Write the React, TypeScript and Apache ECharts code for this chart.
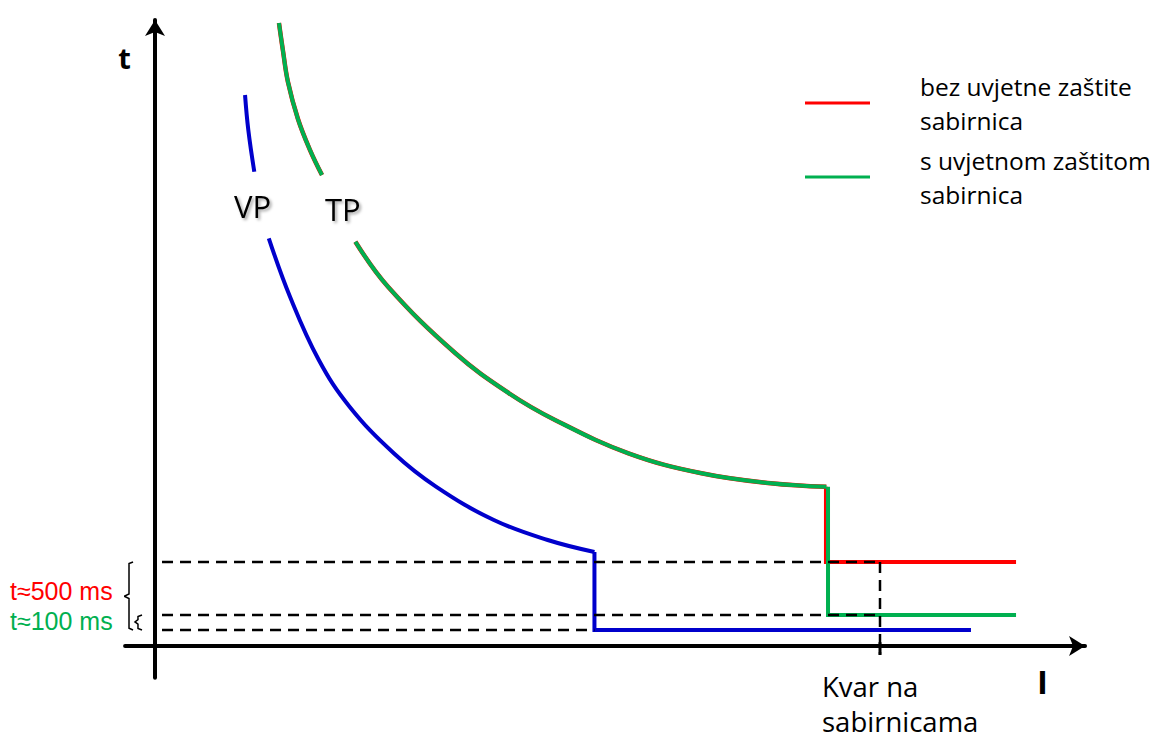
import React, { useEffect, useRef } from "react";
import * as echarts from "echarts";

// Schematic data (I in arbitrary units, t in arbitrary units)
const vpUpper: number[][] = [[9.63, 86.91], [9.98, 81.39], [10.62, 74.81]];
const vpLower: number[][] = [
  [12.17, 64.31], [14.44, 55.09], [17.52, 45.11], [20.81, 37.74], [25.54, 30.39],
  [30.05, 25.13], [36.24, 19.87], [42.0, 16.72], [47.0, 14.83],
];
const vpStep: number[][] = [[47.0, 14.83], [47.0, 2.52], [87.27, 2.52]];

const tpUpper: number[][] = [
  [13.26, 98.26], [13.69, 93.85], [14.22, 88.96], [15.29, 83.12], [16.58, 78.23], [17.86, 74.29],
];
const tpLower: number[][] = [
  [21.43, 63.77], [24.92, 56.67], [32.13, 46.17], [37.86, 39.86], [42.78, 35.65],
  [50.64, 30.39], [58.45, 27.24], [65.86, 25.66], [71.8, 25.1],
];
const redStep: number[][] = [[71.76, 25.1], [71.76, 13.25], [92.09, 13.25]];
const greenStep: number[][] = [[71.98, 25.1], [71.98, 4.89], [92.09, 4.89]];

const dash500: number[][] = [[0.75, 13.25], [77.54, 13.25]];
const dash100: number[][] = [[0.75, 4.89], [77.54, 4.89]];
const dashVP: number[][] = [[0.75, 2.52], [47.0, 2.52]];
const dashFault: number[][] = [[77.54, 13.25], [77.54, -1.4]];
const faultTick: number[][] = [[77.54, 0.6], [77.54, -1.4]];

const braceBig: number[][] = [
  [-2.35, 13.25], [-2.78, 13.0], [-2.78, 8.2], [-3.3, 7.85], [-2.78, 7.5], [-2.78, 2.8], [-2.35, 2.52],
];
const braceSmall: number[][] = [
  [-1.39, 4.89], [-1.82, 4.65], [-1.82, 4.15], [-2.14, 3.8], [-1.82, 3.45], [-1.82, 2.75], [-1.39, 2.52],
];

const NAME_RED = "bez uvjetne zaštite\nsabirnica";
const NAME_GREEN = "s uvjetnom zaštitom\nsabirnica";
const LABEL_500 = "t≈500 ms";
const LABEL_100 = "t≈100 ms";
const FAULT_LABEL = "Kvar na\nsabirnicama";

const X_MIN = -3.2, X_MAX = 99.47, Y_MIN = -5, Y_MAX = 98.74;
const PX_X = 9.35, PX_Y = 6.34;

const RED = "#FF0000";
const GREEN = "#00B050";
const BLUE = "#0000CC";
const FONT = "'Open Sans', 'Noto Sans', sans-serif";
const FONT_SMALL = "'Liberation Sans', Arial, sans-serif";

export default function App() {
  const ref = useRef<HTMLDivElement>(null);
  useEffect(() => {
    if (!ref.current) return;
    const chart = echarts.init(ref.current, null, { renderer: "svg" });
    const line = (name: string | undefined, data: number[][], color: string, width: number, smooth: number | boolean, extra: any = {}) => ({
      type: "line",
      name,
      data,
      smooth,
      symbol: "none",
      clip: false,
      silent: true,
      lineStyle: { color, width, cap: "butt", join: "miter", ...(extra.lineStyle || {}) },
      itemStyle: { color },
      z: extra.z ?? 2,
    });
    const dashed = { type: [11, 7] };
    const shadow = { textShadowColor: "rgba(0,0,0,0.35)", textShadowBlur: 3, textShadowOffsetX: 2, textShadowOffsetY: 2 };
    chart.setOption({
      animation: false,
      backgroundColor: "#fff",
      grid: {
        left: 155 + X_MIN * PX_X,
        top: 646 - Y_MAX * PX_Y,
        width: (X_MAX - X_MIN) * PX_X,
        height: (Y_MAX - Y_MIN) * PX_Y,
        containLabel: false,
      },
      xAxis: {
        type: "value",
        min: X_MIN,
        max: X_MAX,
        axisLine: { onZero: true, symbol: ["none", "arrow"], symbolSize: [15, 16], lineStyle: { color: "#000", width: 4 } },
        axisTick: { show: false },
        axisLabel: { show: false },
        splitLine: { show: false },
      },
      yAxis: {
        type: "value",
        min: Y_MIN,
        max: Y_MAX,
        axisLine: { onZero: true, symbol: ["none", "arrow"], symbolSize: [15, 16], lineStyle: { color: "#000", width: 4 } },
        axisTick: { show: false },
        axisLabel: { show: false },
        splitLine: { show: false },
      },
      legend: {
        data: [NAME_RED, NAME_GREEN],
        orient: "vertical",
        left: 805,
        top: 65,
        padding: 0,
        itemWidth: 65,
        itemHeight: 3,
        itemGap: -2,
        icon: "rect",
        selectedMode: false,
        textStyle: { fontFamily: FONT, fontSize: 24.5, lineHeight: 34, color: "#000", padding: [8, 0, 0, 45] },
      },
      series: [
        line("VP", vpUpper, BLUE, 4, 0.4),
        line("VP", vpLower, BLUE, 4, 0.4),
        line("VP", vpStep, BLUE, 4, false),
        line(NAME_RED, tpUpper, RED, 4.5, 0.4),
        line(NAME_RED, tpLower, RED, 4.5, 0.4),
        line(NAME_RED, redStep, RED, 4, false),
        line(NAME_GREEN, tpUpper, GREEN, 4, 0.4),
        line(NAME_GREEN, tpLower, GREEN, 4, 0.4),
        line(NAME_GREEN, greenStep, GREEN, 4, false),
        line(undefined, dash500, "#000", 2.5, false, { lineStyle: dashed, z: 3 }),
        line(undefined, dash100, "#000", 2.5, false, { lineStyle: dashed, z: 3 }),
        line(undefined, dashVP, "#000", 2.5, false, { lineStyle: dashed, z: 3 }),
        line(undefined, dashFault, "#000", 2.5, false, { lineStyle: dashed, z: 3 }),
        line(undefined, faultTick, "#000", 3, false, { z: 3 }),
        line(undefined, braceBig, "#000", 1.5, false, { z: 3 }),
        line(undefined, braceSmall, "#000", 1.5, false, { z: 3 }),
      ],
      graphic: [
        { type: "text", style: { x: 124.5, y: 57, text: "t", textAlign: "center", textVerticalAlign: "middle", fontFamily: FONT, fontSize: 29, fontWeight: "bold", fill: "#000" } },
        { type: "text", style: { x: 1042.5, y: 681, text: "I", textAlign: "center", textVerticalAlign: "middle", fontFamily: FONT, fontSize: 33, fontWeight: "bold", fill: "#000" } },
        { type: "text", style: { x: 234, y: 206, text: "VP", textAlign: "left", textVerticalAlign: "middle", fontFamily: FONT, fontSize: 31, fill: "#000", ...shadow } },
        { type: "text", style: { x: 325, y: 208.5, text: "TP", textAlign: "left", textVerticalAlign: "middle", fontFamily: FONT, fontSize: 31, fill: "#000", ...shadow } },
        { type: "text", style: { x: 10, y: 590.5, text: LABEL_500, textAlign: "left", textVerticalAlign: "middle", fontFamily: FONT_SMALL, fontSize: 25, lineHeight: 26, fill: RED } },
        { type: "text", style: { x: 10, y: 620.5, text: LABEL_100, textAlign: "left", textVerticalAlign: "middle", fontFamily: FONT_SMALL, fontSize: 25, lineHeight: 26, fill: GREEN } },
        { type: "text", style: { x: 822, y: 703.5, text: FAULT_LABEL, textAlign: "left", textVerticalAlign: "middle", fontFamily: FONT, fontSize: 27.5, lineHeight: 35, fill: "#000" } },
      ],
    });
    return () => chart.dispose();
  }, []);
  return <div ref={ref} style={{ position: "absolute", left: 0, top: 0, width: 1154, height: 740 }} />;
}
